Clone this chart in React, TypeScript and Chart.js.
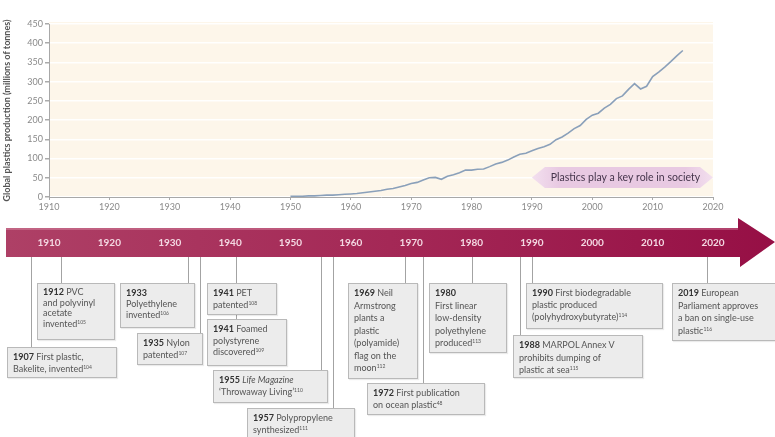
import React, { useEffect, useRef } from "react";
import { Chart, registerables } from "chart.js";

Chart.register(...registerables);

// ---------- data ----------
const years = [
  1950, 1951, 1952, 1953, 1954, 1955, 1956, 1957, 1958, 1959,
  1960, 1961, 1962, 1963, 1964, 1965, 1966, 1967, 1968, 1969,
  1970, 1971, 1972, 1973, 1974, 1975, 1976, 1977, 1978, 1979,
  1980, 1981, 1982, 1983, 1984, 1985, 1986, 1987, 1988, 1989,
  1990, 1991, 1992, 1993, 1994, 1995, 1996, 1997, 1998, 1999,
  2000, 2001, 2002, 2003, 2004, 2005, 2006, 2007, 2008, 2009,
  2010, 2011, 2012, 2013, 2014, 2015,
];
const production = [
  2, 2, 2, 3, 3, 4, 5, 5, 6, 7,
  8, 9, 11, 13, 15, 17, 20, 22, 26, 30,
  35, 38, 44, 50, 51, 46, 54, 58, 63, 70,
  70, 72, 73, 79, 86, 90, 96, 104, 111, 114,
  120, 126, 131, 137, 149, 156, 166, 178, 186, 202,
  213, 218, 231, 241, 256, 263, 280, 295, 281, 288,
  313, 325, 338, 352, 367, 381,
];
const yTicks = [0, 50, 100, 150, 200, 250, 300, 350, 400, 450];
const decadeLabels = [1910, 1920, 1930, 1940, 1950, 1960, 1970, 1980, 1990, 2000, 2010, 2020];
const yTitle = "Global plastics production (millions of tonnes)";
const badgeText = "Plastics play a key role in society";

// timeline events: year, bold lead, rest of text (lines), reference number
const eventYears = [1907, 1912, 1933, 1935, 1941, 1941, 1955, 1957, 1969, 1972, 1980, 1988, 1990, 2019];
const eventLeads = ["1907", "1912", "1933", "1935", "1941", "1941", "1955", "1957", "1969", "1972", "1980", "1988", "1990", "2019"];
const eventLines = [
  [" First plastic,", "Bakelite, invented"],
  [" PVC", "and polyvinyl", "acetate", "invented"],
  ["", "Polyethylene", "invented"],
  [" Nylon", "patented"],
  [" PET", "patented"],
  [" Foamed", "polystyrene", "discovered"],
  [" |Life Magazine|", "\u2018Throwaway Living\u2019"],
  [" Polypropylene", "synthesized"],
  [" Neil", "Armstrong", "plants a", "plastic", "(polyamide)", "flag on the", "moon"],
  [" First publication", "on ocean plastic"],
  ["", "First linear", "low-density", "polyethylene", "produced"],
  [" MARPOL Annex V", "prohibits dumping of", "plastic at sea"],
  [" First biodegradable", "plastic produced", "(polyhydroxybutyrate)"],
  [" European", "Parliament approves", "a ban on single-use", "plastic"],
];
const eventRefs = ["104", "105", "106", "107", "108", "109", "110", "111", "112", "48", "113", "115", "114", "116"];

// layout of the boxes (page pixels)
const boxLeft = [7, 37, 120, 137, 207, 207, 213, 247, 348, 367, 429, 513, 526, 672];
const boxTop = [347, 283, 283, 333, 283, 319, 370, 408, 283, 383, 283, 335, 283, 283];
const boxWidth = [110, 78, 75, 66, 70, 80, 115, 108, 70, 118, 78, 130, 137, 110];
const boxHeight = [31, 57, 45, 32, 32, 47, 33, 36, 96, 32, 70, 43, 46, 58];
const boxLineHeight = [12, 10.5, 11, 12, 12, 11.5, 12, 12, 12.5, 12, 12.5, 12.5, 12.2, 12.5];

const W = 775;
const H = 437;

const ARROW_TOP = 228;
const ARROW_BOTTOM = 257;
const ARROW_BODY_END = 738;

const decorPlugin = {
  id: "decor",
  beforeDraw(chart: any) {
    const { ctx, chartArea: a } = chart;
    ctx.save();
    ctx.fillStyle = "#fdf6ea";
    ctx.fillRect(a.left, a.top - 2, a.right - a.left, a.bottom - a.top + 2);
    ctx.restore();
  },
  afterDraw(chart: any) {
    const { ctx, chartArea: a } = chart;
    const xs = chart.scales.x;
    ctx.save();

    // badge
    const bl = xs.getPixelForValue(1990);
    const br = a.right;
    const bt = a.bottom - 30;
    const bb = a.bottom - 9;
    const bm = (bt + bb) / 2;
    const g = ctx.createLinearGradient(bl, 0, br, 0);
    g.addColorStop(0, "#f3e0ef");
    g.addColorStop(0.15, "#e8c9e2");
    g.addColorStop(0.85, "#e8c9e2");
    g.addColorStop(1, "#f3e0ef");
    ctx.fillStyle = g;
    ctx.beginPath();
    ctx.moveTo(bl, bm);
    ctx.lineTo(bl + 13, bt);
    ctx.lineTo(br - 13, bt);
    ctx.lineTo(br, bm);
    ctx.lineTo(br - 13, bb);
    ctx.lineTo(bl + 13, bb);
    ctx.closePath();
    ctx.fill();
    ctx.fillStyle = "#45354c";
    ctx.font = "10.5px Lato";
    ctx.textAlign = "center";
    ctx.textBaseline = "middle";
    ctx.fillText(badgeText, (bl + br) / 2 + 3, bm + 0.5);

    // arrow
    const ag = ctx.createLinearGradient(6, 0, W, 0);
    ag.addColorStop(0, "#ae4066");
    ag.addColorStop(0.5, "#a42856");
    ag.addColorStop(1, "#960f45");
    ctx.fillStyle = ag;
    ctx.beginPath();
    ctx.moveTo(6, ARROW_TOP);
    ctx.lineTo(ARROW_BODY_END, ARROW_TOP);
    ctx.lineTo(ARROW_BODY_END, 218);
    ctx.lineTo(W, 242);
    ctx.lineTo(ARROW_BODY_END + 2, 267);
    ctx.lineTo(ARROW_BODY_END + 2, ARROW_BOTTOM);
    ctx.lineTo(6, ARROW_BOTTOM);
    ctx.closePath();
    ctx.fill();
    // top highlight
    ctx.fillStyle = "rgba(255,210,225,0.25)";
    ctx.fillRect(6, ARROW_TOP, ARROW_BODY_END - 6, 2);

    ctx.fillStyle = "#f4d8e2";
    ctx.font = "bold 10px Lato";
    ctx.textAlign = "center";
    ctx.textBaseline = "middle";
    decadeLabels.forEach((yr) => {
      ctx.fillText(String(yr), xs.getPixelForValue(yr), 242.5);
    });

    // leader lines
    ctx.strokeStyle = "#a3a3a3";
    ctx.lineWidth = 1;
    eventYears.forEach((yr, i) => {
      const x = Math.round(xs.getPixelForValue(yr)) + 0.5;
      ctx.beginPath();
      ctx.moveTo(x, ARROW_BOTTOM);
      ctx.lineTo(x, boxTop[i]);
      ctx.stroke();
    });
    ctx.restore();
  },
};

function EventBox({ i }: { i: number }) {
  const lines = eventLines[i];
  return (
    <div
      style={{
        position: "absolute",
        left: boxLeft[i],
        top: boxTop[i],
        width: boxWidth[i],
        height: boxHeight[i],
        boxSizing: "border-box",
        background: "#ececec",
        border: "1px solid #b9b9b9",
        boxShadow: "1px 1px 1px rgba(0,0,0,0.08)",
        padding: "3px 4px 0 5px",
        fontFamily: "Lato, 'Open Sans', sans-serif",
        fontSize: 9,
        lineHeight: `${boxLineHeight[i]}px`,
        color: "#555",
        whiteSpace: "nowrap",
        overflow: "hidden",
      }}
    >
      {lines.map((ln, k) => {
        const isLast = k === lines.length - 1;
        const parts = ln.split("|");
        return (
          <div key={k}>
            {k === 0 && <b style={{ color: "#333" }}>{eventLeads[i]}</b>}
            {parts.map((p, j) =>
              j % 2 === 1 ? <i key={j}>{p}</i> : <span key={j}>{p}</span>
            )}
            {isLast && (
              <sup style={{ fontSize: 5, lineHeight: 0, verticalAlign: "3px" }}>{eventRefs[i]}</sup>
            )}
          </div>
        );
      })}
    </div>
  );
}

export default function App() {
  const ref = useRef<HTMLCanvasElement | null>(null);

  useEffect(() => {
    if (!ref.current) return;
    const chart = new Chart(ref.current, {
      type: "line",
      data: {
        datasets: [
          {
            data: years.map((y, i) => ({ x: y, y: production[i] })),
            borderColor: "#8aa0ba",
            borderWidth: 1.6,
            pointRadius: 0,
            tension: 0,
            fill: false,
          },
        ],
      },
      options: {
        animation: false,
        responsive: false,
        devicePixelRatio: 1,
        layout: { padding: { left: 0, top: 24, right: 62, bottom: 222 } },
        plugins: { legend: { display: false }, tooltip: { enabled: false }, title: { display: false } },
        scales: {
          x: {
            type: "linear",
            min: 1910,
            max: 2020,
            afterBuildTicks: (s: any) => {
              s.ticks = decadeLabels.map((v) => ({ value: v }));
            },
            afterFit: (s: any) => {
              s.height = 18;
            },
            ticks: {
              color: "#8a8a8a",
              font: { family: "Lato", size: 9 },
              padding: 2,
              maxRotation: 0,
              callback: (v: any) => String(v),
            },
            grid: { drawOnChartArea: false, drawTicks: true, tickLength: 3, tickColor: "#aaa" },
            border: { color: "#a8a8a8" },
          },
          y: {
            min: 0,
            max: 450,
            afterBuildTicks: (s: any) => {
              s.ticks = yTicks.map((v) => ({ value: v }));
            },
            afterFit: (s: any) => {
              s.width = 49;
            },
            ticks: {
              color: "#8a8a8a",
              font: { family: "Lato", size: 9 },
              padding: 2,
            },
            grid: { color: "rgba(255,255,255,0.95)", lineWidth: 1.5, tickLength: 4, tickColor: "#aaa" },
            border: { color: "#a8a8a8" },
            title: {
              display: true,
              text: yTitle,
              color: "#555",
              font: { family: "Lato", size: 9, weight: "bold" },
              padding: { top: 2, bottom: 0 },
            },
          },
        },
      },
      plugins: [decorPlugin],
    } as any);
    return () => chart.destroy();
  }, []);

  return (
    <div style={{ position: "absolute", left: 0, top: 0, width: W, height: H, overflow: "hidden", background: "#fff" }}>
      <canvas ref={ref} width={W} height={H} style={{ position: "absolute", left: 0, top: 0, width: W, height: H }} />
      {eventYears.map((_, i) => (
        <EventBox key={i} i={i} />
      ))}
    </div>
  );
}
